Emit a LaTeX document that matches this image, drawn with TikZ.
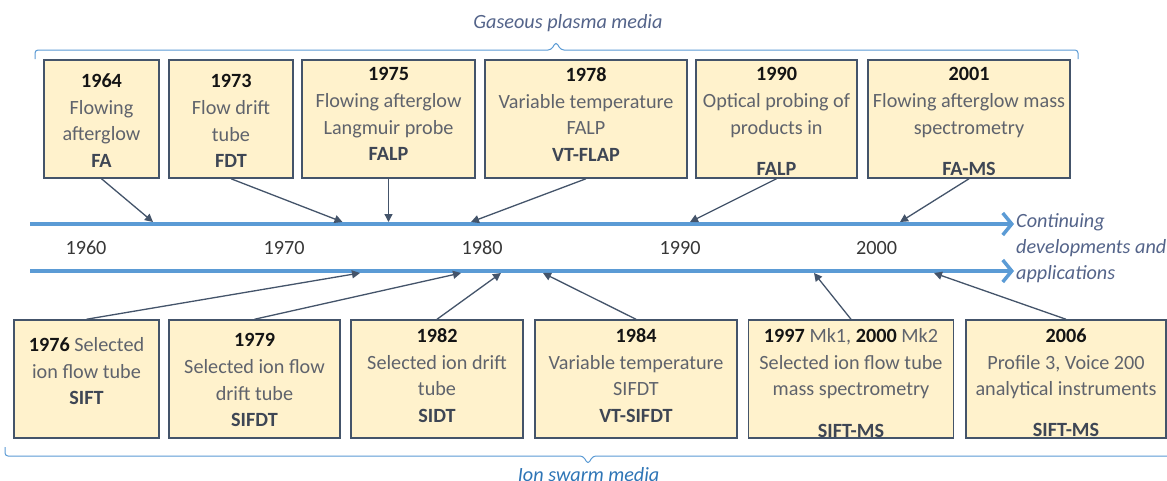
\documentclass[tikz,border=0pt]{standalone}
\usepackage{fontspec}
\setmainfont{Carlito}
\usetikzlibrary{arrows.meta}

\definecolor{lineblue}{RGB}{91,155,213}
\definecolor{boxfill}{RGB}{255,242,204}
\definecolor{boxedge}{RGB}{68,84,106}
\definecolor{desctext}{RGB}{95,99,108}
\definecolor{abbrtext}{RGB}{62,70,84}
\definecolor{yeartext}{RGB}{20,20,20}
\definecolor{slateblue}{RGB}{84,100,138}
\definecolor{ionblue}{RGB}{46,117,182}

\newcommand{\evyear}[1]{\textcolor{yeartext}{\textbf{#1}}}
\newcommand{\evabbr}[1]{\textcolor{abbrtext}{\textbf{#1}}}

\tikzset{
  evbox/.style={draw=boxedge, fill=boxfill, line width=1.5pt, minimum height=118pt, inner sep=0pt},
  evtext/.style={anchor=north, align=center, inner sep=0pt, text=desctext, font=\fontsize{20.2}{26.6}\selectfont},
  evarrow/.style={draw=boxedge, line width=1.3pt, -{Triangle[length=8pt,width=8pt]}},
  tline/.style={draw=lineblue, line width=4pt, -{Straight Barb[length=9pt,width=22pt,line width=3.5pt]}},
  brace/.style={draw=lineblue, line width=1pt, rounded corners=3pt},
  yearlbl/.style={text=yeartext!85, inner sep=0pt, font=\fontsize{20.2}{24}\selectfont},
  medlabel/.style={anchor=base, inner sep=0pt, text=slateblue, font=\fontsize{20.2}{24}\selectfont\itshape},
}

\begin{document}
\begin{tikzpicture}[x=1pt,y=-1pt]
\useasboundingbox[fill=white] (0,0) rectangle (1167,480);

\draw[brace] (35,59) -- (35,50) -- (551,50) -- (556,42) -- (561,50) -- (1078,50) -- (1078,59);
\node[medlabel] (gas) at (568,28.3) {Gaseous plasma media};

\node[evbox, minimum width=115pt] (fa) at (101.5,119) {};
\node[evbox, minimum width=124pt] (fdt) at (231,119) {};
\node[evbox, minimum width=173pt] (falp) at (388.5,119) {};
\node[evbox, minimum width=202pt] (vtfalp) at (586,119) {};
\node[evbox, minimum width=161pt] (optic) at (776.5,119) {};
\node[evbox, minimum width=202pt] (fams) at (969,119) {};

\node[evtext] (fa-t) at (101.5,73.5) {\evyear{1964}\\Flowing\\afterglow\\\evabbr{FA}};
\node[evtext] (fdt-t) at (231,74.5) {\evyear{1973}\\Flow drift\\tube\\\evabbr{FDT}};
\node[evtext] (falp-t) at (388.5,67.5) {\evyear{1975}\\Flowing afterglow\\Langmuir probe\\\evabbr{FALP}};
\node[evtext] (vtfalp-t) at (586,67.5) {\evyear{1978}\\Variable temperature\\FALP\\\evabbr{VT-FLAP}};
\node[evtext] (optic-t) at (776.5,67.5) {\evyear{1990}\\Optical probing of\\products in\\[14.5pt]\evabbr{FALP}};
\node[evtext] (fams-t) at (969,67.5) {\evyear{2001}\\Flowing afterglow mass\\spectrometry\\[14.5pt]\evabbr{FA-MS}};

\coordinate (tl-a) at (30,224);
\coordinate (tl-b) at (1014,224);
\coordinate (bl-a) at (30,271);
\coordinate (bl-b) at (1014,271);
\draw[tline] (tl-a) -- (tl-b);
\draw[tline] (bl-a) -- (bl-b);

\node[yearlbl] (y1960) at (86,248) {1960};
\node[yearlbl] (y1970) at (284,248) {1970};
\node[yearlbl] (y1980) at (482,248) {1980};
\node[yearlbl] (y1990) at (680,248) {1990};
\node[yearlbl] (y2000) at (876.5,248) {2000};

\node[medlabel, anchor=north west, align=left, font=\fontsize{20.2}{26}\selectfont\itshape] (cont) at (1016,213) {Continuing\\developments and\\applications};

\coordinate (p1964) at (153,222);
\coordinate (p1973) at (342.5,222);
\coordinate (p1975) at (388.5,222);
\coordinate (p1978) at (471,222);
\coordinate (p1990) at (690,222);
\coordinate (p2001) at (900,222);
\draw[evarrow] (fa.south) -- (p1964);
\draw[evarrow] (fdt.south) -- (p1973);
\draw[evarrow] (falp.south) -- (p1975);
\draw[evarrow] (vtfalp.south) -- (p1978);
\draw[evarrow] (optic.south) -- (p1990);
\draw[evarrow] (fams.south) -- (p2001);

\node[evbox, minimum width=145pt] (sift) at (86.5,379) {};
\node[evbox, minimum width=171pt] (sifdt) at (254.5,379) {};
\node[evbox, minimum width=172pt] (sidt) at (437,379) {};
\node[evbox, minimum width=202pt] (vtsifdt) at (636,379) {};
\node[evbox, minimum width=205pt] (siftms) at (851,379) {};
\node[evbox, minimum width=200pt] (profile) at (1066,379) {};

\node[evtext] (sift-t) at (86.5,337.5) {\evyear{1976} Selected\\ion flow tube\\\evabbr{SIFT}};
\node[evtext] (sifdt-t) at (254.5,333.5) {\evyear{1979}\\Selected ion flow\\drift tube\\\evabbr{SIFDT}};
\node[evtext] (sidt-t) at (437,328.5) {\evyear{1982}\\Selected ion drift\\tube\\\evabbr{SIDT}};
\node[evtext] (vtsifdt-t) at (636,328.5) {\evyear{1984}\\Variable temperature\\SIFDT\\\evabbr{VT-SIFDT}};
\node[evtext] (siftms-t) at (851,328.5) {\evyear{1997} Mk1, \evyear{2000} Mk2\\Selected ion flow tube\\mass spectrometry\\[14.5pt]\evabbr{SIFT-MS}};
\node[evtext] (profile-t) at (1066,328.5) {\evyear{2006}\\Profile 3, Voice 200\\analytical instruments\\[14.5pt]\evabbr{SIFT-MS}};

\coordinate (p1976) at (360,273);
\coordinate (p1979) at (461,273);
\coordinate (p1982) at (501,273);
\coordinate (p1984) at (543,273);
\coordinate (p1997) at (814,273);
\coordinate (p2006) at (934,273);
\draw[evarrow] (sift.north) -- (p1976);
\draw[evarrow] (sifdt.north) -- (p1979);
\draw[evarrow] (sidt.north) -- (p1982);
\draw[evarrow] (vtsifdt.north) -- (p1984);
\draw[evarrow] (siftms.north) -- (p1997);
\draw[evarrow] (profile.north) -- (p2006);

\draw[brace] (5,447) -- (5,456) -- (583,456) -- (588,464) -- (593,456) -- (1175,456) -- (1175,447);
\node[medlabel, text=ionblue] (ion) at (588.6,481) {Ion swarm media};

\end{tikzpicture}
\end{document}
